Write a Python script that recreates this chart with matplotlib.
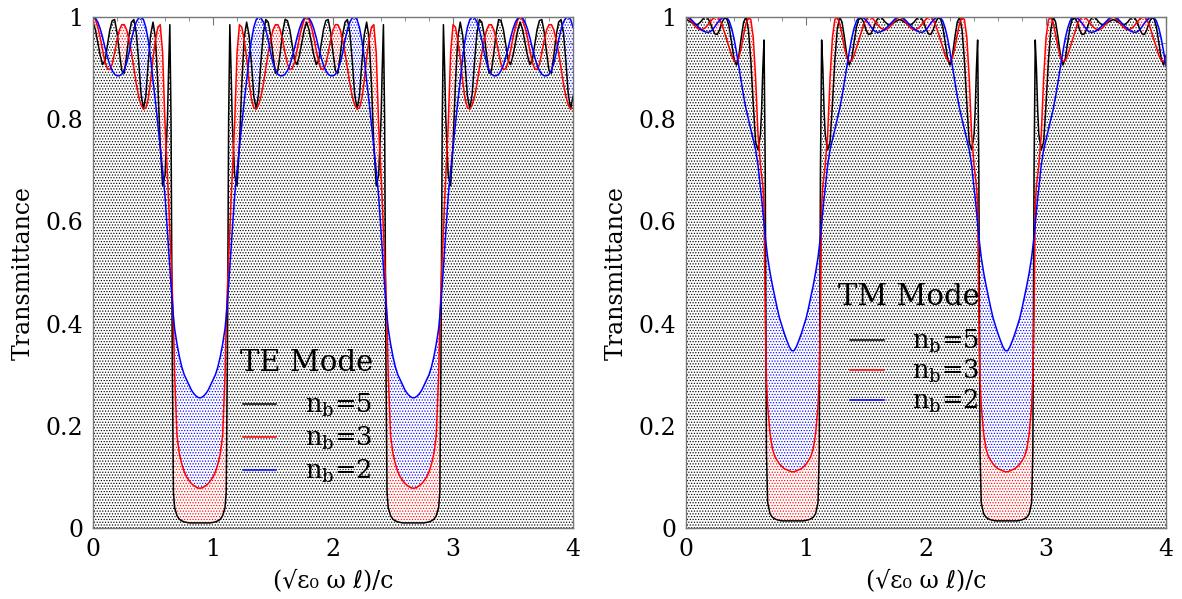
import matplotlib
matplotlib.use("Agg")
import matplotlib.pyplot as plt
from matplotlib.ticker import MultipleLocator
from matplotlib.lines import Line2D

plt.rcParams['font.family'] = ['DejaVu Serif', 'DejaVu Sans']
plt.rcParams['mathtext.fontset'] = 'dejavuserif'
plt.rcParams['hatch.linewidth'] = 0.55

# ---------------- data ----------------
x_vals = [
    0.00, 0.02, 0.04, 0.06, 0.08, 0.10, 0.12, 0.14, 0.16, 0.18, 0.20, 0.22, 0.24, 0.26, 0.28, 0.30,
    0.32, 0.34, 0.36, 0.38, 0.40, 0.42, 0.44, 0.46, 0.48, 0.50, 0.52, 0.54, 0.56, 0.58, 0.60,
    0.62, 0.63, 0.64, 0.65, 0.66, 0.67, 0.68, 0.70, 0.72, 0.74, 0.76, 0.78, 0.80, 0.82, 0.84, 0.86, 0.88,
    0.90, 0.92, 0.94, 0.96, 0.98, 1.00, 1.02, 1.04, 1.06, 1.08, 1.10, 1.11, 1.12, 1.13, 1.14, 1.15, 1.16,
    1.18, 1.20, 1.22, 1.24, 1.26, 1.28, 1.30, 1.32, 1.34, 1.36, 1.38, 1.40, 1.42, 1.44, 1.46, 1.48,
    1.50, 1.52, 1.54, 1.56, 1.58, 1.60, 1.62, 1.64, 1.66, 1.68, 1.70, 1.72, 1.74, 1.76, 1.78,
    1.80, 1.82, 1.84, 1.86, 1.88, 1.90, 1.92, 1.94, 1.96, 1.98, 2.00, 2.02, 2.04, 2.06, 2.08, 2.10,
    2.12, 2.14, 2.16, 2.18, 2.20, 2.22, 2.24, 2.26, 2.28, 2.30, 2.32, 2.34, 2.36, 2.38,
    2.40, 2.41, 2.42, 2.43, 2.44, 2.45, 2.46, 2.48, 2.50, 2.52, 2.54, 2.56, 2.58, 2.60, 2.62, 2.64, 2.66,
    2.68, 2.70, 2.72, 2.74, 2.76, 2.78, 2.80, 2.82, 2.84, 2.86, 2.88, 2.89, 2.90, 2.91, 2.92, 2.93, 2.94,
    2.96, 2.98, 3.00, 3.02, 3.04, 3.06, 3.08, 3.10, 3.12, 3.14, 3.16, 3.18, 3.20, 3.22, 3.24, 3.26,
    3.28, 3.30, 3.32, 3.34, 3.36, 3.38, 3.40, 3.42, 3.44, 3.46, 3.48, 3.50, 3.52, 3.54, 3.56,
    3.58, 3.60, 3.62, 3.64, 3.66, 3.68, 3.70, 3.72, 3.74, 3.76, 3.78, 3.80, 3.82, 3.84, 3.86, 3.88,
    3.90, 3.92, 3.94, 3.96, 3.98, 4.00,
]

te_nb5 = [
    .99, .975, .95, .925, .907, .915, .945, .975, .993, .995, .97, .93, .895, .89, .925, .965, .99, .995, .97, .915, .85, .82, .845, .91, .965, .99, .96, .87, .75, .67, .69, .80, .90, .985, .80, .35, .07, .04, .024, .017, .014, .012, .011, .01, .01, .01, .01, .01,
    .01, .01, .01, .01, .01, .011, .012, .014, .017, .024, .04, .07, .35, .80, .985, .90, .80, .69, .67, .75, .87, .96, .99, .965, .91, .845, .82, .85, .915, .97, .995, .99, .965, .925, .89, .895, .93, .97, .995, .993, .975, .945, .915, .907, .925, .95, .975, .99,
    .975, .95, .925, .907, .915, .945, .975, .993, .995, .97, .93, .895, .89, .925, .965, .99, .995, .97, .915, .85, .82, .845, .91, .965, .99, .96, .87, .75, .67, .69, .80, .90, .985, .80, .35, .07, .04, .024, .017, .014, .012, .011, .01, .01, .01, .01, .01,
    .01, .01, .01, .01, .01, .011, .012, .014, .017, .024, .04, .07, .35, .80, .985, .90, .80, .69, .67, .75, .87, .96, .99, .965, .91, .845, .82, .85, .915, .97, .995, .99, .965, .925, .89, .895, .93, .97, .995, .993, .975, .945, .915, .907, .925, .95, .975, .99,
    .975, .95, .925, .907, .915, .945, .975, .993, .995, .97, .93, .895, .89, .925, .965, .99, .995, .97, .915, .85, .82, .845,
]
te_nb3 = [
    1.0, .995, .98, .96, .935, .912, .899, .897, .908, .93, .955, .975, .985, .985, .975, .955, .93, .90, .87, .845, .828, .82, .822, .84, .875, .92, .955, .98, .985, .93, .79, .69, .64, .58, .53, .47, .40, .30, .18, .145, .125, .11, .10, .093, .087, .083, .08, .078,
    .078, .08, .083, .087, .093, .10, .11, .125, .145, .18, .30, .40, .47, .53, .58, .64, .69, .79, .93, .985, .98, .955, .92, .875, .84, .822, .82, .828, .845, .87, .90, .93, .955, .975, .985, .985, .975, .955, .93, .908, .897, .899, .912, .935, .96, .98, .995, 1.0,
    .995, .98, .96, .935, .912, .899, .897, .908, .93, .955, .975, .985, .985, .975, .955, .93, .90, .87, .845, .828, .82, .822, .84, .875, .92, .955, .98, .985, .93, .79, .69, .64, .58, .53, .47, .40, .30, .18, .145, .125, .11, .10, .093, .087, .083, .08, .078,
    .078, .08, .083, .087, .093, .10, .11, .125, .145, .18, .30, .40, .47, .53, .58, .64, .69, .79, .93, .985, .98, .955, .92, .875, .84, .822, .82, .828, .845, .87, .90, .93, .955, .975, .985, .985, .975, .955, .93, .908, .897, .899, .912, .935, .96, .98, .995, 1.0,
    .995, .98, .96, .935, .912, .899, .897, .908, .93, .955, .975, .985, .985, .975, .955, .93, .90, .87, .845, .828, .82, .822,
]
te_nb2 = [
    1.0, .998, .99, .977, .96, .94, .922, .906, .895, .888, .885, .885, .888, .896, .91, .93, .955, .975, .99, .998, 1.0, .995, .98, .955, .92, .875, .835, .79, .745, .70, .65, .58, .545, .51, .475, .445, .415, .39, .36, .335, .315, .30, .29, .28, .27, .263, .258, .255,
    .255, .258, .263, .27, .28, .29, .30, .315, .335, .36, .39, .415, .445, .475, .51, .545, .58, .65, .70, .745, .79, .835, .875, .92, .955, .98, .995, 1.0, .998, .99, .975, .955, .93, .91, .896, .888, .885, .885, .888, .895, .906, .922, .94, .96, .977, .99, .998, 1.0,
    .998, .99, .977, .96, .94, .922, .906, .895, .888, .885, .885, .888, .896, .91, .93, .955, .975, .99, .998, 1.0, .995, .98, .955, .92, .875, .835, .79, .745, .70, .65, .58, .545, .51, .475, .445, .415, .39, .36, .335, .315, .30, .29, .28, .27, .263, .258, .255,
    .255, .258, .263, .27, .28, .29, .30, .315, .335, .36, .39, .415, .445, .475, .51, .545, .58, .65, .70, .745, .79, .835, .875, .92, .955, .98, .995, 1.0, .998, .99, .975, .955, .93, .91, .896, .888, .885, .885, .888, .895, .906, .922, .94, .96, .977, .99, .998, 1.0,
    .998, .99, .977, .96, .94, .922, .906, .895, .888, .885, .885, .888, .896, .91, .93, .955, .975, .99, .998, 1.0, .995, .98,
]

tm_nb5 = [
    .995, .993, .99, .987, .985, .986, .99, .996, 1.0, .998, .99, .977, .967, .966, .975, .99, .998, .997, .98, .95, .918, .906, .925, .96, .99, 1.0, .975, .915, .83, .755, .74, .77, .82, .90, .955, .70, .15, .05, .028, .021, .018, .016, .015, .014, .014, .014, .014, .014,
    .014, .014, .014, .014, .014, .015, .016, .018, .021, .028, .05, .15, .70, .955, .90, .82, .77, .74, .755, .83, .915, .975, 1.0, .99, .96, .925, .906, .918, .95, .98, .997, .998, .99, .975, .966, .967, .977, .99, .998, 1.0, .996, .99, .986, .985, .987, .99, .993, .995,
    .993, .99, .987, .985, .986, .99, .996, 1.0, .998, .99, .977, .967, .966, .975, .99, .998, .997, .98, .95, .918, .906, .925, .96, .99, 1.0, .975, .915, .83, .755, .74, .77, .82, .90, .955, .70, .15, .05, .028, .021, .018, .016, .015, .014, .014, .014, .014, .014,
    .014, .014, .014, .014, .014, .015, .016, .018, .021, .028, .05, .15, .70, .955, .90, .82, .77, .74, .755, .83, .915, .975, 1.0, .99, .96, .925, .906, .918, .95, .98, .997, .998, .99, .975, .966, .967, .977, .99, .998, 1.0, .996, .99, .986, .985, .987, .99, .993, .995,
    .993, .99, .987, .985, .986, .99, .996, 1.0, .998, .99, .977, .967, .966, .975, .99, .998, .997, .98, .95, .918, .906, .925,
]
tm_nb3 = [
    1.0, .998, .993, .987, .981, .977, .975, .976, .979, .984, .99, .996, .999, 1.0, .995, .985, .97, .955, .94, .925, .915, .913, .92, .94, .965, .988, .999, .995, .96, .88, .77, .71, .69, .67, .63, .42, .29, .24, .185, .155, .14, .132, .125, .12, .116, .114, .112, .11,
    .11, .112, .114, .116, .12, .125, .132, .14, .155, .185, .24, .29, .42, .63, .67, .69, .71, .77, .88, .96, .995, .999, .988, .965, .94, .92, .913, .915, .925, .94, .955, .97, .985, .995, 1.0, .999, .996, .99, .984, .979, .976, .975, .977, .981, .987, .993, .998, 1.0,
    .998, .993, .987, .981, .977, .975, .976, .979, .984, .99, .996, .999, 1.0, .995, .985, .97, .955, .94, .925, .915, .913, .92, .94, .965, .988, .999, .995, .96, .88, .77, .71, .69, .67, .63, .42, .29, .24, .185, .155, .14, .132, .125, .12, .116, .114, .112, .11,
    .11, .112, .114, .116, .12, .125, .132, .14, .155, .185, .24, .29, .42, .63, .67, .69, .71, .77, .88, .96, .995, .999, .988, .965, .94, .92, .913, .915, .925, .94, .955, .97, .985, .995, 1.0, .999, .996, .99, .984, .979, .976, .975, .977, .981, .987, .993, .998, 1.0,
    .998, .993, .987, .981, .977, .975, .976, .979, .984, .99, .996, .999, 1.0, .995, .985, .97, .955, .94, .925, .915, .913, .92,
]
tm_nb2 = [
    1.0, .999, .996, .991, .986, .981, .977, .973, .971, .970, .971, .975, .981, .988, .994, .998, 1.0, .999, .992, .978, .958, .932, .903, .873, .845, .82, .80, .78, .76, .74, .71, .665, .645, .62, .595, .57, .55, .53, .50, .475, .452, .43, .41, .395, .38, .367, .355, .347,
    .347, .355, .367, .38, .395, .41, .43, .452, .475, .50, .53, .55, .57, .595, .62, .645, .665, .71, .74, .76, .78, .80, .82, .845, .873, .903, .932, .958, .978, .992, .999, 1.0, .998, .994, .988, .981, .975, .971, .970, .971, .973, .977, .981, .986, .991, .996, .999, 1.0,
    .999, .996, .991, .986, .981, .977, .973, .971, .970, .971, .975, .981, .988, .994, .998, 1.0, .999, .992, .978, .958, .932, .903, .873, .845, .82, .80, .78, .76, .74, .71, .665, .645, .62, .595, .57, .55, .53, .50, .475, .452, .43, .41, .395, .38, .367, .355, .347,
    .347, .355, .367, .38, .395, .41, .43, .452, .475, .50, .53, .55, .57, .595, .62, .645, .665, .71, .74, .76, .78, .80, .82, .845, .873, .903, .932, .958, .978, .992, .999, 1.0, .998, .994, .988, .981, .975, .971, .970, .971, .973, .977, .981, .986, .991, .996, .999, 1.0,
    .999, .996, .991, .986, .981, .977, .973, .971, .970, .971, .975, .981, .988, .994, .998, 1.0, .999, .992, .978, .958, .932, .903,
]

series_labels = [r'n$_\mathrm{b}$=5', r'n$_\mathrm{b}$=3', r'n$_\mathrm{b}$=2']
series_colors = ['black', 'red', 'blue']
mode_titles = ['TE Mode', 'TM Mode']
x_ticks = [0, 1, 2, 3, 4]
y_ticks = [0, 0.2, 0.4, 0.6, 0.8, 1.0]
y_tick_labels = ['0', '0.2', '0.4', '0.6', '0.8', '1']
x_label = '(\u221a\u03b5\u2080 \u03c9 \u2113)/c'
y_label = 'Transmittance'

panels = [
    (te_nb5, te_nb3, te_nb2),
    (tm_nb5, tm_nb3, tm_nb2),
]

# ---------------- figure ----------------
fig = plt.figure(figsize=(11.82, 5.99), dpi=100)
ax_rects = [[0.0787, 0.1185, 0.4061, 0.8531], [0.5804, 0.1185, 0.4061, 0.8531]]
title_pos = [(0.306, 0.322), (0.316, 0.452)]
legend_anchor = [(0.3125, 0.266), (0.342, 0.392)]
legend_spacing = [0.22, 0.12]
hatch = '......'
spine_col = '#777777'

for k, (rect, curves) in enumerate(zip(ax_rects, panels)):
    ax = fig.add_axes(rect)
    # fills: blue first, then red, then black on top (white faces)
    for yv, col, z in [(curves[2], 'blue', 1), (curves[1], 'red', 2), (curves[0], 'black', 3)]:
        ax.fill_between(x_vals, 0, yv, facecolor='white', edgecolor=col,
                        hatch=hatch, linewidth=0, zorder=z)
    for yv, col in zip(curves, series_colors):
        ax.plot(x_vals, yv, color=col, lw=1.1, zorder=5)

    ax.set_xlim(0, 4)
    ax.set_ylim(0, 1)
    ax.set_xticks(x_ticks)
    ax.set_xticklabels([str(t) for t in x_ticks])
    ax.set_yticks(y_ticks)
    ax.set_yticklabels(y_tick_labels)
    ax.xaxis.set_minor_locator(MultipleLocator(0.2))
    ax.yaxis.set_minor_locator(MultipleLocator(0.05))
    ax.tick_params(which='both', direction='in', top=True, right=True,
                   color=spine_col, labelsize=17, pad=7)
    ax.tick_params(which='major', length=6, width=0.8)
    ax.tick_params(which='minor', length=3, width=0.6)
    for s in ax.spines.values():
        s.set_color(spine_col)
        s.set_linewidth(1.0)
        s.set_zorder(6)
    ax.set_xlabel(x_label, fontsize=17, labelpad=6)
    ax.set_ylabel(y_label, fontsize=17, labelpad=8)

    ax.text(title_pos[k][0], title_pos[k][1], mode_titles[k], transform=ax.transAxes,
            fontsize=21, ha='left', va='center', zorder=8)
    handles = [Line2D([0], [0], color=c, lw=1.1) for c in series_colors]
    leg = ax.legend(handles, series_labels, frameon=False,
                    loc='upper left', bbox_to_anchor=legend_anchor[k],
                    fontsize=18.5, handlelength=1.3,
                    handletextpad=1.1, labelspacing=legend_spacing[k], borderpad=0.0,
                    borderaxespad=0.0)
    leg.set_zorder(7)

fig.savefig('out.png', dpi=100)
